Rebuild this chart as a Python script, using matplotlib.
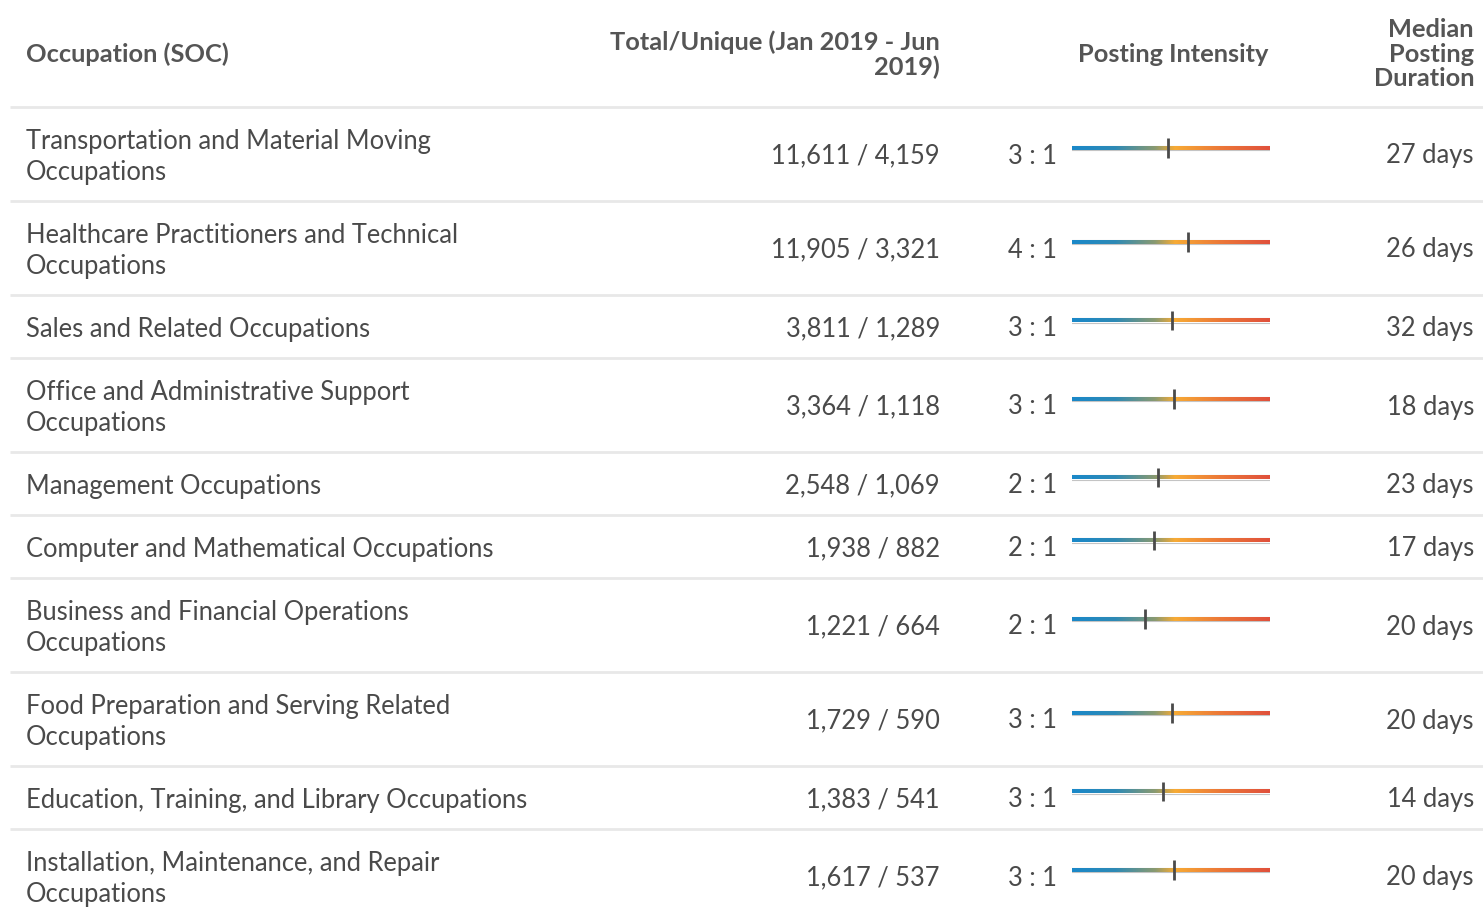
import numpy as np
import matplotlib.pyplot as plt
from matplotlib.colors import LinearSegmentedColormap

occupations = [
    "Transportation and Material Moving\nOccupations",
    "Healthcare Practitioners and Technical\nOccupations",
    "Sales and Related Occupations",
    "Office and Administrative Support\nOccupations",
    "Management Occupations",
    "Computer and Mathematical Occupations",
    "Business and Financial Operations\nOccupations",
    "Food Preparation and Serving Related\nOccupations",
    "Education, Training, and Library Occupations",
    "Installation, Maintenance, and Repair\nOccupations",
]
total_postings = [11611, 11905, 3811, 3364, 2548, 1938, 1221, 1729, 1383, 1617]
unique_postings = [4159, 3321, 1289, 1118, 1069, 882, 664, 590, 541, 537]
intensity_labels = ["3 : 1", "4 : 1", "3 : 1", "3 : 1", "2 : 1", "2 : 1", "2 : 1", "3 : 1", "3 : 1", "3 : 1"]
intensity = [2.79, 3.58, 2.96, 3.01, 2.38, 2.20, 1.84, 2.93, 2.56, 3.01]
median_days = [27, 26, 32, 18, 23, 17, 20, 20, 14, 20]

TEXT = "#4a4a4a"
HEAD = "#555555"
RULE = "#e8e8e8"
FONT = "Lato"

plt.rcParams["font.family"] = [FONT, "DejaVu Sans"]

W, H = 1483, 915
fig = plt.figure(figsize=(W / 100, H / 100), dpi=100)
ax = fig.add_axes([0, 0, 1, 1])
ax.set_xlim(0, W)
ax.set_ylim(H, 0)
ax.axis("off")

cmap = LinearSegmentedColormap.from_list(
    "intensity", [(0, "#1a88c9"), (0.22, "#2e8ab5"), (0.42, "#8a9a70"),
                  (0.52, "#f7ab35"), (0.75, "#ec7838"), (1, "#e0503c")])

# header
hs = 18.3
ax.text(26, 54, "Occupation (SOC)", fontsize=hs, fontweight="bold", color=HEAD,
        va="center", ha="left")
ax.text(940, 55, "Total/Unique (Jan 2019 - Jun\n2019)", fontsize=hs, fontweight="bold",
        color=HEAD, va="center", ha="right", multialignment="right", linespacing=1.1)
ax.text(1268, 54, "Posting Intensity", fontsize=hs, fontweight="bold", color=HEAD,
        va="center", ha="right")
ax.text(1474, 54, "Median\nPosting\nDuration", fontsize=hs, fontweight="bold",
        color=HEAD, va="center", ha="right", multialignment="right", linespacing=1.1)
ax.plot([10, W], [107, 107], color=RULE, lw=2, solid_capstyle="butt")

y = 107
fs = 18.4
lo, hi = -1.1, 6.9
for i, occ in enumerate(occupations):
    rh = 94 if "\n" in occ else 63
    yc = y + rh / 2
    ty = yc + 2
    ax.text(26, ty + 1, occ, fontsize=fs, color=TEXT, va="center", ha="left", linespacing=1.33)
    ax.text(940, ty, f"{total_postings[i]:,} / {unique_postings[i]:,}", fontsize=fs,
            color=TEXT, va="center", ha="right")
    ax.text(1057, ty, intensity_labels[i], fontsize=fs, color=TEXT, va="center", ha="right")
    ax.text(1474, ty, f"{median_days[i]} days", fontsize=fs, color=TEXT,
            va="center", ha="right")

    by = yc - 6
    bax = fig.add_axes([1072 / W, 1 - (by + 12) / H, 198 / W, 24 / H])
    bax.set_xlim(lo, hi)
    bax.set_ylim(-1, 1)
    bax.axis("off")
    grad = np.linspace(0, 1, 256).reshape(1, -1)
    bax.imshow(grad, cmap=cmap, aspect="auto", extent=(lo, hi, -0.16, 0.16), zorder=2)
    bax.plot([lo, hi], [0.2, 0.2], color="#c4c4c4", lw=0.8, zorder=1)
    bax.plot([lo, hi], [-0.2, -0.2], color="#c4c4c4", lw=0.8, zorder=1)
    bax.plot([intensity[i], intensity[i]], [-0.8, 0.8], color="#4a4a4a", lw=2, zorder=3,
             solid_capstyle="butt")

    y += rh
    if i < len(occupations) - 1:
        ax.plot([10, W], [y, y], color=RULE, lw=2, solid_capstyle="butt")

fig.savefig("out.png", dpi=100)
